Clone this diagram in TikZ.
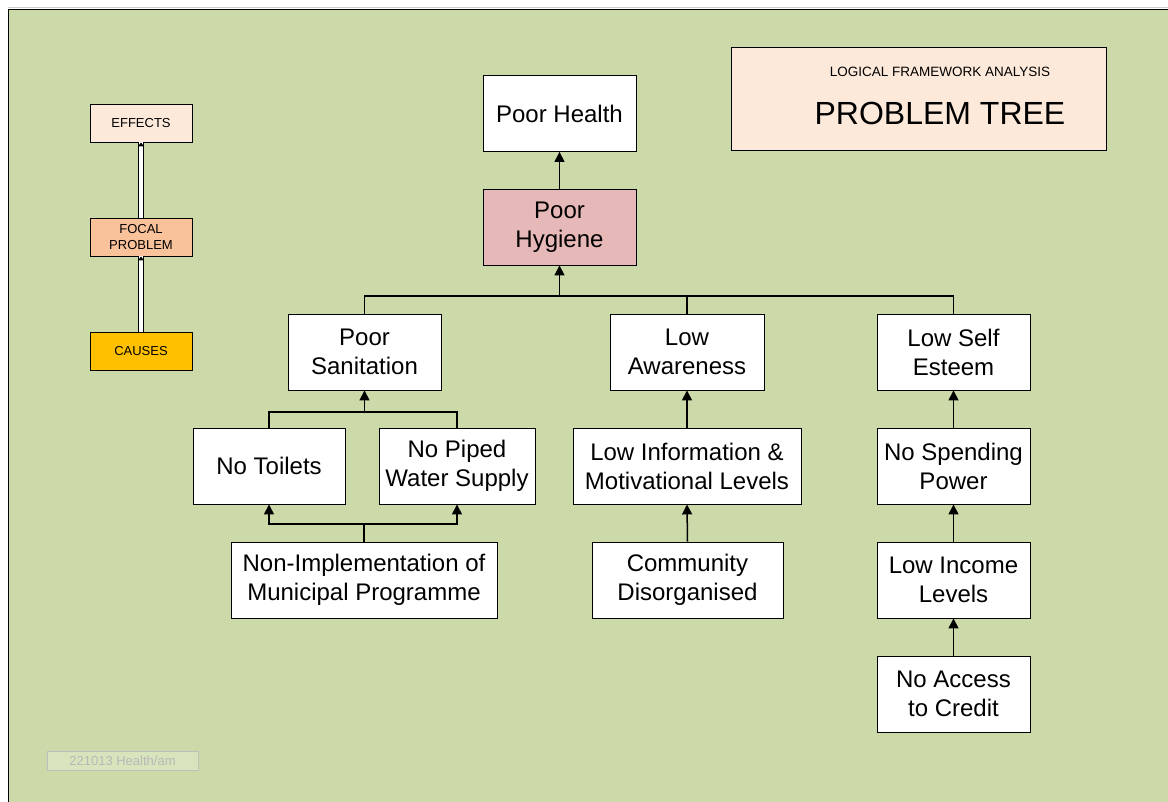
\documentclass[tikz,border=0pt]{standalone}
\usepackage{fontspec}
\setmainfont{Liberation Sans}
\usetikzlibrary{arrows.meta}
\definecolor{bggreen}{RGB}{204,218,170}
\definecolor{hygfill}{RGB}{230,184,183}
\definecolor{peach}{RGB}{253,233,217}
\definecolor{focalfill}{RGB}{249,194,154}
\definecolor{causefill}{RGB}{255,192,0}
\definecolor{footfill}{RGB}{216,228,188}
\definecolor{footgray}{RGB}{190,190,190}
\tikzset{
  box/.style={draw=black, line width=0.9pt, fill=white, align=center, inner sep=2pt,
    font=\fontsize{24}{29}\selectfont, minimum height=76pt, minimum width=153pt},
  legendbox/.style={draw=black, line width=0.9pt, align=center, inner sep=1pt,
    font=\fontsize{13}{16}\selectfont, minimum width=102pt, minimum height=38pt},
  link/.style={line width=1.5pt},
  arr/.style={line width=1.5pt, -{Triangle[width=10pt,length=10pt]}},
  dbl/.style={draw=black, line width=0.8pt, double=white, double distance=3.5pt}
}
\begin{document}
\begin{tikzpicture}[x=1pt,y=-1pt]
\useasboundingbox (0,0) rectangle (1168,802);
\fill[white] (0,0) rectangle (1168,802);
\fill[bggreen] (8,9) rectangle (1168,802);
\draw[black!20, line width=1pt] (8,7.5) -- (1168,7.5);
\draw[black, line width=1.4pt] (8.7,802) -- (8.7,9.7) -- (1168,9.7);

% legend
\node[legendbox, fill=peach] (effects) at (141,123) {EFFECTS};
\node[legendbox, fill=focalfill] (focal) at (141,237) {FOCAL\\PROBLEM};
\node[legendbox, fill=causefill] (causes) at (141,351) {CAUSES};
\draw[dbl] (causes.north) -- (focal.south);
\draw[dbl] (focal.north) -- (effects.south);
\fill[black] (focal.south) ++(-3,4) -- ++(6,0) -- ++(-3,-4) -- cycle;
\fill[black] (effects.south) ++(-3,4) -- ++(6,0) -- ++(-3,-4) -- cycle;

% title
\node[draw=black, line width=0.9pt, fill=peach, minimum width=375pt, minimum height=103pt] (title) at (918.5,98.5) {};
\node[font=\fontsize{13.5}{15}\selectfont] (subtitle) at (940,72) {LOGICAL FRAMEWORK ANALYSIS};
\node[font=\fontsize{32}{36}\selectfont] (maintitle) at (940,113) {PROBLEM TREE};

% tree nodes
\node[box] (health) at (559.5,113.5) {Poor Health};
\node[box, fill=hygfill] (hyg) at (559.5,227) {Poor\\Hygiene};
\node[box] (sanit) at (364.5,352) {Poor\\Sanitation};
\node[box, minimum width=154pt] (aware) at (687,352) {Low\\Awareness};
\node[box] (selfe) at (953.5,352) {Low Self\\Esteem};
\node[box, minimum width=152pt] (toilets) at (269,466) {No Toilets};
\node[box, minimum width=156pt] (piped) at (457,466) {No Piped\\Water Supply};
\node[box, minimum width=266pt] (nonimp) at (364,580) {Non-Implementation of\\Municipal Programme};
\node[box, minimum width=228pt] (info) at (687,466) {Low Information \&\\Motivational Levels};
\node[box, minimum width=191pt] (comm) at (687.5,580) {Community\\Disorganised};
\node[box] (spend) at (953.5,466) {No Spending\\Power};
\node[box] (income) at (953.5,580) {Low Income\\Levels};
\node[box] (credit) at (953.5,694) {No Access\\to Credit};

% connectors
\coordinate (bar) at (560,296);
\coordinate (sbar) at (364,412);
\coordinate (nbar) at (364,524);
\draw[arr] (hyg.north) -- (health.south);
\draw[link] (sanit.north) |- (selfe.north |- bar) -- (selfe.north);
\draw[link] (aware.north) -- (aware.north |- bar);
\draw[arr] (hyg.south |- bar) -- (hyg.south);
\draw[link] (toilets.north) |- (piped.north |- sbar) -- (piped.north);
\draw[arr] (sanit.south |- sbar) -- (sanit.south);
\draw[arr] (nonimp.north) -- (nonimp.north |- nbar) -| (toilets.south);
\draw[arr] (nonimp.north |- nbar) -| (piped.south);
\draw[arr] (info.north) -- (aware.south);
\draw[arr] (comm.north) -- (info.south);
\draw[arr] (spend.north) -- (selfe.south);
\draw[arr] (income.north) -- (spend.south);
\draw[arr] (credit.north) -- (income.south);

% footer
\node[draw=footgray, line width=1pt, fill=footfill, minimum width=151pt, minimum height=19pt, inner sep=0pt,
  text=black!28, font=\fontsize{13}{15}\selectfont] (footer) at (122.5,760.5) {221013 Health/am};
\end{tikzpicture}
\end{document}
